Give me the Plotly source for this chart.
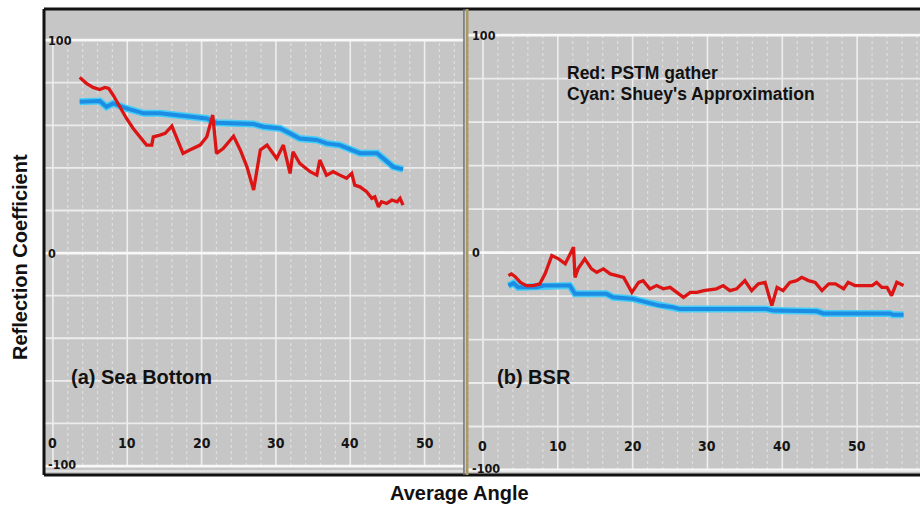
import plotly.graph_objects as go

# ---------------- data ----------------
sea_red_x = [3.6, 4.5, 5.4, 6.3, 7.0, 7.5, 8.1, 9.0, 9.9, 10.8, 11.7, 12.6, 13.3, 13.5, 14.4, 15.1,
             16.0, 16.6, 17.5, 18.4, 19.8, 20.7, 21.5, 22.0, 22.9, 24.3, 25.2, 26.1, 27.0, 27.9,
             28.8, 30.1, 31.0, 31.9, 32.3, 33.2, 34.6, 35.5, 35.9, 36.8, 37.7, 38.6, 39.5, 40.2,
             40.6, 41.3, 42.2, 42.9, 43.3, 43.8, 44.2, 44.9, 45.6, 46.3, 46.7, 47.1]
sea_red_y = [82.5, 79.7, 77.8, 76.8, 77.8, 77.3, 74.2, 68.7, 63.2, 58.5, 54.6, 50.7, 50.7, 54.6,
             55.4, 56.2, 59.6, 54.6, 46.8, 48.4, 50.7, 54.6, 64.8, 46.8, 49.1, 54.9, 48.4, 40.5,
             29.6, 48.4, 50.7, 44.4, 50.7, 37.4, 47.6, 42.1, 38.2, 36.6, 43.7, 36.6, 38.2, 36.6,
             35.1, 37.4, 31.9, 31.1, 28.8, 25.7, 26.4, 21.7, 24.1, 23.3, 24.9, 24.1, 25.7, 22.5]

sea_cyan_x = [3.6, 6.3, 7.2, 8.1, 9.9, 12.2, 14.4, 16.6, 18.9, 20.7, 22.0, 24.3, 27.0, 28.3,
              30.6, 31.9, 33.2, 35.5, 36.8, 38.6, 40.4, 41.3, 43.6, 44.5, 45.8, 47.1]
sea_cyan_y = [71.0, 71.4, 68.7, 70.3, 67.9, 65.6, 65.6, 64.8, 64.3, 63.2, 61.2, 60.9, 60.6, 59.3,
              58.5, 56.2, 53.8, 53.1, 51.5, 50.7, 48.4, 46.9, 46.9, 44.4, 40.5, 39.3]

bsr_red_x = [3.4, 3.8, 4.3, 5.0, 5.8, 6.7, 7.6, 8.3, 9.2, 10.1, 11.0, 11.6, 12.1, 12.3, 12.7,
             13.6, 14.5, 15.2, 16.1, 17.0, 17.9, 18.8, 19.9, 20.8, 21.4, 22.3, 23.2, 24.1, 25.0,
             25.9, 26.8, 27.7, 28.6, 29.5, 30.3, 31.2, 32.1, 33.0, 33.9, 35.0, 35.9, 36.8, 37.7,
             38.6, 39.3, 40.1, 41.0, 41.9, 42.6, 43.5, 44.4, 45.3, 46.2, 47.1, 48.2, 48.8, 49.7,
             50.6, 52.0, 52.6, 53.3, 54.0, 54.6, 55.3, 56.2]
bsr_red_y = [-10.6, -9.8, -11.1, -13.7, -15.2, -15.2, -14.4, -9.8, -1.4, -2.9, -5.2, -1.4, 2.5,
             -11.4, -7.5, -2.9, -7.5, -9.1, -7.5, -9.8, -10.6, -11.4, -18.3, -13.7, -12.9, -16.7,
             -15.2, -16.7, -16.0, -18.3, -20.6, -18.3, -18.3, -17.5, -17.2, -16.7, -15.2, -17.5,
             -16.7, -12.9, -17.5, -14.4, -13.7, -24.4, -16.0, -17.5, -13.7, -12.9, -11.4, -12.9,
             -13.7, -17.5, -14.4, -14.4, -16.7, -13.7, -15.2, -15.2, -15.2, -13.7, -16.0, -16.0,
             -19.8, -13.7, -15.2]

bsr_cyan_x = [3.4, 4.1, 4.7, 7.2, 8.1, 11.6, 12.3, 16.5, 17.4, 20.1, 21.9, 23.6, 25.4, 26.3,
              37.9, 38.8, 44.6, 45.5, 54.4, 54.8, 56.2]
bsr_cyan_y = [-15.2, -14.1, -16.0, -16.0, -15.2, -15.2, -19.0, -19.0, -20.6, -21.3, -22.9, -24.4,
              -25.2, -26.0, -26.0, -26.7, -27.0, -28.0, -28.0, -28.6, -28.6]

x_tick_vals = [0, 10, 20, 30, 40, 50]
y_tick_vals = [100, 0, -100]
y_tick_text = ["100", "0", "-100"]

panel_titles = ["(a) Sea Bottom", "(b) BSR"]
legend_lines = ["Red: PSTM gather", "Cyan: Shuey's Approximation"]
x_title = "Average Angle"
y_title = "Reflection Coefficient"

# ---------------- styles ----------------
W, H = 920, 507
BG = "#c6c6c6"
RED = "#dc1414"
CYAN_LIGHT = "#45cdf7"
CYAN_DARK = "#1c8de3"
TEXT_FONT = "Liberation Sans, Arial, sans-serif"
TICK_FONT = "DejaVu Sans Condensed, Liberation Sans Narrow, Arial Narrow, sans-serif"


def px_x(p):
    return p / W


def px_y(p):
    return 1 - p / H


top_px, bot_px = 9, 475
left_dom = [px_x(44), px_x(464)]
right_dom = [px_x(468), 1.0]
y_dom = [px_y(bot_px), px_y(top_px)]

left_xrange = [-1.2, 55.3]
left_yrange = [-104.2, 114.6]
right_xrange = [-2.0, 58.4]
right_yrange = [-102.3, 112.0]

fig = go.Figure()


def add_panel(xa, ya, cyan_x, cyan_y, red_x, red_y):
    fig.add_trace(go.Scatter(x=cyan_x, y=cyan_y, mode="lines", xaxis=xa, yaxis=ya,
                             line=dict(color=CYAN_LIGHT, width=7), showlegend=False,
                             hoverinfo="skip"))
    fig.add_trace(go.Scatter(x=cyan_x, y=cyan_y, mode="lines", xaxis=xa, yaxis=ya,
                             line=dict(color=CYAN_DARK, width=4), showlegend=False))
    fig.add_trace(go.Scatter(x=red_x, y=red_y, mode="lines", xaxis=xa, yaxis=ya,
                             line=dict(color=RED, width=3.3), showlegend=False))


add_panel("x", "y", sea_cyan_x, sea_cyan_y, sea_red_x, sea_red_y)
add_panel("x2", "y2", bsr_cyan_x, bsr_cyan_y, bsr_red_x, bsr_red_y)

axis_common = dict(showgrid=False, zeroline=False, showticklabels=False, ticks="",
                   showline=False, fixedrange=True)
fig.update_layout(
    width=W, height=H, margin=dict(l=0, r=0, t=0, b=0),
    paper_bgcolor="white", plot_bgcolor=BG,
    xaxis=dict(domain=left_dom, range=left_xrange, anchor="y", **axis_common),
    yaxis=dict(domain=y_dom, range=left_yrange, anchor="x", **axis_common),
    xaxis2=dict(domain=right_dom, range=right_xrange, anchor="y2", **axis_common),
    yaxis2=dict(domain=y_dom, range=right_yrange, anchor="x2", **axis_common),
)

shapes = []
annotations = []


def grid(xref, yref, xr, xmin_line, xmax_line):
    v = xmin_line
    while v <= xmax_line:
        major = (v % 10 == 0)
        shapes.append(dict(type="line", xref=xref, yref=yref, x0=v, x1=v, y0=-100, y1=100,
                           line=dict(color="#eeeeee" if major else "#dedede",
                                     width=1.6 if major else 1.2,
                                     dash="solid" if major else "dot"),
                           layer="below"))
        v += 2
    for h in range(-100, 101, 20):
        strong = h in (100, 0, -100)
        shapes.append(dict(type="line", xref=xref, yref=yref, x0=xr[0], x1=xr[1], y0=h, y1=h,
                           line=dict(color="#f8f8f8" if strong else "#ececec",
                                     width=2.8 if strong else 1.8),
                           layer="below"))


grid("x", "y", left_xrange, 0, 54)
grid("x2", "y2", right_xrange, -2, 58)

for xa, ya, xr in (("x", "y", left_xrange), ("x2", "y2", right_xrange)):
    for v in x_tick_vals:
        annotations.append(dict(x=v, y=-89, xref=xa, yref=ya, text="<b>" + str(v) + "</b>",
                                showarrow=False,
                                font=dict(family=TICK_FONT, size=14, color="#151515"),
                                xanchor="center", yanchor="middle"))
    for v, t in zip(y_tick_vals, y_tick_text):
        annotations.append(dict(x=xr[0] + 0.25, y=v, xref=xa, yref=ya, text="<b>" + t + "</b>",
                                showarrow=False,
                                font=dict(family=TICK_FONT, size=12.5, color="#151515"),
                                xanchor="left", yanchor="middle",
                                yshift=2 if v == -100 else 0))

# panel titles
annotations.append(dict(x=px_x(69), y=px_y(377), xref="paper", yref="paper",
                        text="<b>" + panel_titles[0] + "</b>",
                        showarrow=False, xanchor="left", yanchor="middle",
                        font=dict(family=TEXT_FONT, size=20, color="#111111")))
annotations.append(dict(x=px_x(495), y=px_y(377), xref="paper", yref="paper",
                        text="<b>" + panel_titles[1] + "</b>",
                        showarrow=False, xanchor="left", yanchor="middle",
                        font=dict(family=TEXT_FONT, size=20, color="#111111")))
# legend text lines
for i, (line_txt, ypx) in enumerate(zip(legend_lines, (73, 94))):
    annotations.append(dict(x=px_x(565), y=px_y(ypx), xref="paper", yref="paper",
                            text="<b>" + line_txt + "</b>",
                            showarrow=False, xanchor="left", yanchor="middle", align="left",
                            font=dict(family=TEXT_FONT, size=17.5, color="#111111")))
# axis titles
annotations.append(dict(x=px_x(459), y=px_y(493), xref="paper", yref="paper",
                        text="<b>" + x_title + "</b>",
                        showarrow=False, xanchor="center", yanchor="middle",
                        font=dict(family=TEXT_FONT, size=20, color="#111111")))
annotations.append(dict(x=px_x(20), y=px_y(257), xref="paper", yref="paper",
                        text="<b>" + y_title + "</b>",
                        showarrow=False, xanchor="center", yanchor="middle", textangle=-90,
                        font=dict(family=TEXT_FONT, size=20, color="#111111")))

# frame
shapes.append(dict(type="line", xref="paper", yref="paper", x0=px_x(44), x1=1, y0=px_y(9), y1=px_y(9),
                   line=dict(color="#111111", width=3)))
shapes.append(dict(type="line", xref="paper", yref="paper", x0=px_x(44), x1=1, y0=px_y(475), y1=px_y(475),
                   line=dict(color="#111111", width=3)))
shapes.append(dict(type="line", xref="paper", yref="paper", x0=px_x(44), x1=1, y0=px_y(471), y1=px_y(471),
                   line=dict(color="#e8e8e8", width=1.5)))
shapes.append(dict(type="line", xref="paper", yref="paper", x0=px_x(44), x1=px_x(44), y0=px_y(9), y1=px_y(475),
                   line=dict(color="#111111", width=3)))
shapes.append(dict(type="line", xref="paper", yref="paper", x0=px_x(464), x1=px_x(464), y0=px_y(9), y1=px_y(475),
                   line=dict(color="#6a6a78", width=1.5)))
shapes.append(dict(type="line", xref="paper", yref="paper", x0=px_x(467), x1=px_x(467), y0=px_y(9), y1=px_y(475),
                   line=dict(color="#a89a62", width=3)))

fig.update_layout(shapes=shapes, annotations=annotations)
fig.write_html("out.html")
